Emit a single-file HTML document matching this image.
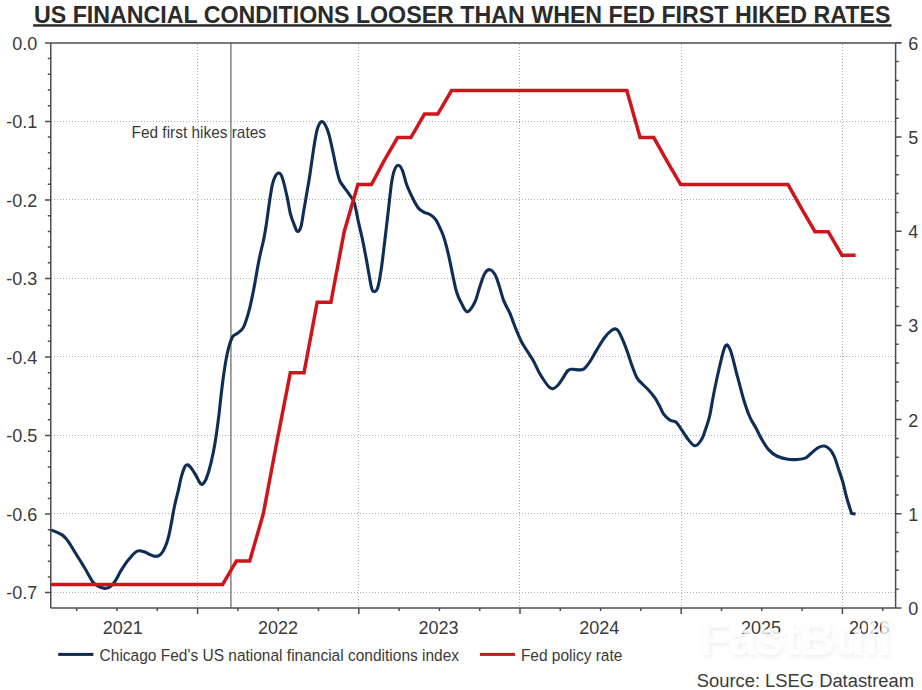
<!DOCTYPE html><html><head><meta charset="utf-8"><style>html,body{margin:0;padding:0;background:#fff;width:922px;height:690px;overflow:hidden}svg{display:block}text{font-family:"Liberation Sans",sans-serif}</style></head><body>
<svg width="922" height="690" viewBox="0 0 922 690">
<rect width="922" height="690" fill="#fff"/>
<text x="34" y="22.8" font-size="23.4" font-weight="bold" fill="#2b2b2b" textLength="856.5" lengthAdjust="spacingAndGlyphs">US FINANCIAL CONDITIONS LOOSER THAN WHEN FED FIRST HIKED RATES</text>
<rect x="33.1" y="24.2" width="858.4" height="2.5" fill="#2b2b2b"/>
<path d="M51,121.5H895 M51,199.5H895 M51,278.5H895 M51,356.5H895 M51,435.5H895 M51,513.5H895 M51,592.5H895" stroke="#adadad" stroke-width="1" stroke-dasharray="1,2" fill="none"/>
<path d="M197.5,44V607 M358.5,44V607 M519.5,44V607 M681.5,44V607 M842.5,44V607" stroke="#adadad" stroke-width="1" stroke-dasharray="1,2" fill="none"/>
<path d="M230.9,42.9V608.0" stroke="#808080" stroke-width="1.5" fill="none"/>
<text x="131.5" y="137.8" font-size="16.4" fill="#3a3a3a" textLength="134.5" lengthAdjust="spacingAndGlyphs">Fed first hikes rates</text>
<path d="M50.8,529.9 C51.8,530.3 54.7,531.3 56.6,532.2 C58.5,533.1 60.8,534.0 62.4,535.1 C64.0,536.2 65.1,537.5 66.4,539.1 C67.8,540.7 69.0,542.7 70.5,544.9 C72.0,547.1 73.5,550.0 75.1,552.5 C76.6,555.0 78.2,557.5 79.8,560.0 C81.3,562.5 82.9,564.9 84.4,567.5 C86.0,570.1 87.8,573.4 89.1,575.7 C90.4,578.0 91.2,579.8 92.5,581.5 C93.8,583.2 95.2,584.6 97.2,585.7 C99.2,586.9 102.4,588.3 104.7,588.4 C107.0,588.5 109.3,587.5 111.1,586.1 C112.9,584.8 114.2,582.7 115.7,580.3 C117.2,577.9 118.9,574.3 120.4,571.6 C122.0,568.9 123.4,566.6 125.0,564.3 C126.6,562.0 128.2,560.0 130.2,557.8 C132.2,555.6 134.9,552.2 137.2,551.2 C139.5,550.2 142.1,551.2 144.1,551.7 C146.1,552.2 147.4,553.5 149.3,554.3 C151.2,555.1 153.5,556.4 155.4,556.4 C157.3,556.4 159.1,555.8 160.7,554.3 C162.3,552.8 163.7,550.3 165.0,547.4 C166.3,544.5 167.3,541.6 168.5,537.0 C169.7,532.4 171.0,524.8 172.0,519.6 C173.0,514.4 173.6,510.4 174.6,505.7 C175.6,501.0 176.8,496.6 178.0,491.7 C179.2,486.8 180.3,480.3 181.5,476.1 C182.7,471.9 184.0,468.4 185.0,466.5 C186.0,464.6 186.4,464.4 187.6,464.8 C188.8,465.2 190.6,467.2 192.0,469.1 C193.4,471.0 194.9,473.7 196.3,476.1 C197.7,478.5 199.1,482.0 200.2,483.3 C201.2,484.6 201.6,484.9 202.6,484.2 C203.6,483.5 204.8,482.4 206.2,478.9 C207.6,475.3 209.6,468.8 211.0,462.9 C212.4,457.0 213.6,451.8 214.9,443.8 C216.2,435.8 217.8,424.1 218.9,415.1 C220.0,406.1 220.8,397.4 221.7,390.0 C222.6,382.6 223.4,376.3 224.3,370.4 C225.2,364.5 226.1,359.1 227.0,354.8 C227.9,350.5 228.6,347.4 229.6,344.3 C230.6,341.2 231.5,338.4 232.8,336.5 C234.1,334.6 235.8,334.5 237.4,333.2 C239.0,331.9 241.2,330.6 242.6,328.7 C244.0,326.8 244.4,325.3 245.6,322.0 C246.8,318.7 248.2,314.1 249.6,308.7 C250.9,303.3 252.1,297.7 253.7,289.4 C255.3,281.1 257.5,267.6 259.2,259.1 C260.9,250.6 262.7,244.6 263.9,238.5 C265.1,232.4 265.7,228.7 266.6,222.6 C267.5,216.5 268.5,208.1 269.5,201.7 C270.5,195.3 271.4,188.6 272.4,184.3 C273.4,180.1 274.2,178.1 275.3,176.2 C276.4,174.3 277.7,173.0 278.8,173.0 C279.9,173.0 280.8,174.1 281.7,176.2 C282.6,178.3 283.6,181.8 284.5,185.5 C285.4,189.2 286.4,193.6 287.4,198.2 C288.4,202.8 289.2,209.1 290.3,213.3 C291.4,217.6 292.6,220.7 293.8,223.7 C295.0,226.7 296.1,230.7 297.3,231.3 C298.5,231.9 299.7,230.6 300.8,227.2 C301.9,223.8 302.6,217.0 303.7,211.0 C304.8,205.0 306.1,197.5 307.1,191.3 C308.2,185.1 308.9,181.2 310.0,173.9 C311.1,166.6 312.6,155.2 313.8,147.7 C315.0,140.2 316.1,133.2 317.4,128.8 C318.7,124.5 320.1,122.2 321.4,121.6 C322.7,121.0 324.1,123.0 325.4,125.2 C326.7,127.4 327.7,129.9 329.0,134.6 C330.3,139.3 332.0,147.4 333.3,153.5 C334.6,159.6 335.9,166.3 337.0,170.9 C338.1,175.5 338.6,178.1 339.9,181.0 C341.2,183.9 343.2,185.9 344.9,188.3 C346.6,190.7 348.4,193.1 350.0,195.5 C351.6,197.9 352.9,198.3 354.3,202.9 C355.8,207.5 357.2,216.7 358.7,223.2 C360.1,229.7 361.6,235.0 363.0,242.0 C364.4,249.0 366.1,257.9 367.4,265.2 C368.7,272.4 370.0,281.1 371.0,285.5 C372.0,289.9 372.1,290.8 373.2,291.3 C374.3,291.8 376.2,292.0 377.5,288.4 C378.8,284.8 380.0,277.6 381.2,269.6 C382.4,261.6 383.6,250.5 384.8,240.6 C386.0,230.7 387.3,219.6 388.4,210.0 C389.5,200.4 390.5,189.9 391.5,183.3 C392.5,176.7 393.3,173.3 394.4,170.3 C395.5,167.3 397.0,165.2 398.3,165.2 C399.6,165.2 401.0,167.0 402.4,170.3 C403.8,173.6 405.0,180.2 406.7,184.8 C408.4,189.4 410.6,193.9 412.5,197.8 C414.4,201.7 416.4,205.6 418.3,208.0 C420.2,210.4 422.2,211.2 424.1,212.3 C426.0,213.4 428.0,213.3 429.9,214.5 C431.8,215.7 433.8,216.8 435.7,219.6 C437.6,222.4 439.9,227.6 441.5,231.2 C443.1,234.8 443.8,236.8 445.1,241.4 C446.4,246.0 448.1,253.0 449.4,258.8 C450.7,264.6 451.8,270.6 453.0,276.2 C454.2,281.8 455.2,287.6 456.7,292.2 C458.1,296.8 459.9,300.6 461.7,303.8 C463.5,307.1 465.3,311.9 467.5,311.7 C469.7,311.4 472.7,306.5 474.8,302.3 C476.9,298.1 478.2,291.2 479.9,286.4 C481.6,281.6 483.2,276.1 484.9,273.3 C486.6,270.5 488.3,269.4 490.0,269.7 C491.7,269.9 493.5,272.0 495.1,274.8 C496.7,277.6 497.9,282.0 499.4,286.4 C500.8,290.8 502.1,296.5 503.8,300.9 C505.5,305.2 508.1,309.1 509.6,312.5 C511.1,315.9 511.7,318.0 512.9,321.2 C514.1,324.4 515.5,328.1 517.0,331.6 C518.5,335.1 519.9,338.7 521.6,342.0 C523.3,345.3 525.5,348.2 527.4,351.3 C529.3,354.4 531.3,357.1 533.2,360.6 C535.1,364.1 537.1,368.7 539.0,372.2 C540.9,375.7 543.1,379.0 544.8,381.5 C546.5,384.0 548.0,386.1 549.4,387.3 C550.8,388.5 551.5,389.0 552.9,388.7 C554.3,388.4 556.0,387.1 557.6,385.5 C559.2,383.9 560.5,381.7 562.2,379.2 C563.9,376.7 566.3,372.1 568.0,370.5 C569.7,368.9 570.7,369.4 572.6,369.3 C574.5,369.2 577.7,370.0 579.6,369.9 C581.5,369.8 582.5,370.1 584.2,368.7 C585.9,367.3 588.0,364.6 590.0,361.5 C592.0,358.4 594.1,354.3 596.5,350.4 C598.9,346.5 601.9,341.2 604.3,338.0 C606.7,334.8 609.0,332.4 610.9,330.9 C612.8,329.4 614.1,328.8 615.4,328.9 C616.7,329.0 617.3,329.2 618.7,331.5 C620.1,333.8 622.4,339.0 623.9,342.6 C625.4,346.2 626.5,349.3 627.8,353.0 C629.1,356.7 630.2,360.7 631.7,364.8 C633.2,368.9 635.1,374.7 636.9,377.8 C638.6,380.9 640.2,381.6 642.2,383.7 C644.2,385.8 646.6,387.9 648.7,390.2 C650.8,392.5 652.8,394.8 654.6,397.4 C656.4,399.9 657.8,402.8 659.3,405.5 C660.8,408.2 661.6,411.2 663.3,413.6 C665.0,416.0 667.7,418.6 669.7,420.0 C671.7,421.4 673.8,420.5 675.5,421.8 C677.2,423.1 678.3,424.9 680.2,427.6 C682.1,430.3 684.7,435.0 687.1,438.0 C689.5,441.0 692.4,445.5 694.8,445.8 C697.2,446.1 699.5,442.9 701.4,439.8 C703.3,436.7 704.9,431.2 706.3,427.0 C707.7,422.8 708.7,420.3 709.9,414.8 C711.1,409.3 712.1,402.0 713.7,394.0 C715.3,386.0 717.6,375.0 719.5,367.0 C721.4,359.0 723.5,349.0 725.3,346.2 C727.1,343.4 728.4,345.2 730.4,350.3 C732.4,355.4 735.3,368.6 737.5,376.7 C739.7,384.8 741.5,392.4 743.5,399.0 C745.5,405.6 747.5,411.6 749.6,416.5 C751.7,421.4 754.2,424.7 756.2,428.5 C758.2,432.3 759.6,435.7 761.7,439.2 C763.8,442.7 766.1,446.8 768.6,449.6 C771.1,452.4 773.6,454.4 776.8,456.0 C780.0,457.6 784.4,458.7 787.9,459.3 C791.4,459.9 794.5,459.7 797.5,459.5 C800.5,459.3 803.3,459.1 805.8,457.9 C808.3,456.6 810.5,453.7 812.6,452.0 C814.7,450.3 816.2,448.6 818.2,447.6 C820.2,446.6 822.6,445.7 824.6,446.1 C826.6,446.5 828.6,448.0 830.2,449.8 C831.9,451.6 833.2,454.0 834.5,457.0 C835.8,460.0 836.8,463.7 838.1,467.7 C839.4,471.7 841.0,475.9 842.5,481.0 C844.0,486.1 845.3,492.6 846.8,498.0 C848.3,503.4 850.8,510.9 851.6,513.5 L855.5,513.9" stroke="#0f2e57" stroke-width="3.1" fill="none" stroke-linejoin="round" stroke-linecap="butt"/>
<path d="M50.4,584.4 L222.7,584.4 L236.4,560.9 L249.7,560.9 L263.3,513.8 L276.6,443.3 L290.3,372.8 L304.0,372.8 L317.2,302.2 L330.9,302.2 L344.2,231.7 L357.9,184.6 L371.5,184.6 L383.9,161.1 L397.6,137.6 L410.9,137.6 L424.5,114.1 L437.8,114.1 L451.5,90.6 L626.8,90.6 L640.1,137.6 L653.8,137.6 L667.0,161.1 L680.7,184.6 L788.0,184.6 L801.3,208.1 L815.0,231.7 L828.2,231.7 L841.9,255.2 L855.6,255.2" stroke="#cd161c" stroke-width="3.5" fill="none" stroke-linejoin="miter"/>
<path d="M45,42.9H901.5 M50.75,42.9V608.0 M895.6,42.9V608.0 M50.75,608.0H901.5 M45,42.9H50.75 M45,121.4H50.75 M45,200.0H50.75 M45,278.5H50.75 M45,357.0H50.75 M45,435.5H50.75 M45,514.1H50.75 M45,592.6H50.75 M47.8,58.6H50.75 M47.8,74.3H50.75 M47.8,90.0H50.75 M47.8,105.7H50.75 M47.8,137.1H50.75 M47.8,152.8H50.75 M47.8,168.5H50.75 M47.8,184.3H50.75 M47.8,215.7H50.75 M47.8,231.4H50.75 M47.8,247.1H50.75 M47.8,262.8H50.75 M47.8,294.2H50.75 M47.8,309.9H50.75 M47.8,325.6H50.75 M47.8,341.3H50.75 M47.8,372.7H50.75 M47.8,388.4H50.75 M47.8,404.1H50.75 M47.8,419.8H50.75 M47.8,451.3H50.75 M47.8,467.0H50.75 M47.8,482.7H50.75 M47.8,498.4H50.75 M47.8,529.8H50.75 M47.8,545.5H50.75 M47.8,561.2H50.75 M47.8,576.9H50.75 M895.6,608.0H901.5 M895.6,513.8H901.5 M895.6,419.6H901.5 M895.6,325.4H901.5 M895.6,231.2H901.5 M895.6,137.0H901.5 M895.6,42.8H901.5 M895.6,589.2H898.7 M895.6,570.3H898.7 M895.6,551.5H898.7 M895.6,532.6H898.7 M895.6,495.0H898.7 M895.6,476.1H898.7 M895.6,457.3H898.7 M895.6,438.4H898.7 M895.6,400.8H898.7 M895.6,381.9H898.7 M895.6,363.1H898.7 M895.6,344.2H898.7 M895.6,306.6H898.7 M895.6,287.7H898.7 M895.6,268.9H898.7 M895.6,250.0H898.7 M895.6,212.4H898.7 M895.6,193.5H898.7 M895.6,174.7H898.7 M895.6,155.8H898.7 M895.6,118.2H898.7 M895.6,99.3H898.7 M895.6,80.5H898.7 M895.6,61.6H898.7 M76.7,608.0V611.0 M117.0,608.0V611.0 M157.3,608.0V611.0 M197.6,608.0V614.0 M237.9,608.0V611.0 M278.2,608.0V611.0 M318.5,608.0V611.0 M358.8,608.0V614.0 M399.1,608.0V611.0 M439.4,608.0V611.0 M479.7,608.0V611.0 M520.0,608.0V614.0 M560.3,608.0V611.0 M600.6,608.0V611.0 M640.9,608.0V611.0 M681.2,608.0V614.0 M721.5,608.0V611.0 M761.8,608.0V611.0 M802.1,608.0V611.0 M842.4,608.0V614.0 M882.7,608.0V611.0" stroke="#4d4d4d" stroke-width="1.5" fill="none"/>
<text x="37.3" y="50" font-size="18" fill="#3a3a3a" text-anchor="end">0.0</text>
<text x="37.3" y="128" font-size="18" fill="#3a3a3a" text-anchor="end">-0.1</text>
<text x="37.3" y="207" font-size="18" fill="#3a3a3a" text-anchor="end">-0.2</text>
<text x="37.3" y="285" font-size="18" fill="#3a3a3a" text-anchor="end">-0.3</text>
<text x="37.3" y="364" font-size="18" fill="#3a3a3a" text-anchor="end">-0.4</text>
<text x="37.3" y="442" font-size="18" fill="#3a3a3a" text-anchor="end">-0.5</text>
<text x="37.3" y="521" font-size="18" fill="#3a3a3a" text-anchor="end">-0.6</text>
<text x="37.3" y="599" font-size="18" fill="#3a3a3a" text-anchor="end">-0.7</text>
<text x="908.2" y="615.0" font-size="18" fill="#3a3a3a">0</text>
<text x="908.2" y="520.8" font-size="18" fill="#3a3a3a">1</text>
<text x="908.2" y="426.6" font-size="18" fill="#3a3a3a">2</text>
<text x="908.2" y="332.4" font-size="18" fill="#3a3a3a">3</text>
<text x="908.2" y="238.2" font-size="18" fill="#3a3a3a">4</text>
<text x="908.2" y="144.0" font-size="18" fill="#3a3a3a">5</text>
<text x="908.2" y="49.8" font-size="18" fill="#3a3a3a">6</text>
<text x="122.7" y="634" font-size="18" fill="#3a3a3a" text-anchor="middle">2021</text>
<text x="278.0" y="634" font-size="18" fill="#3a3a3a" text-anchor="middle">2022</text>
<text x="438.5" y="634" font-size="18" fill="#3a3a3a" text-anchor="middle">2023</text>
<text x="599.3" y="634" font-size="18" fill="#3a3a3a" text-anchor="middle">2024</text>
<text x="761.1" y="634" font-size="18" fill="#3a3a3a" text-anchor="middle">2025</text>
<text x="869.0" y="634" font-size="18" fill="#3a3a3a" text-anchor="middle">2026</text>
<rect x="58.2" y="652.9" width="35.2" height="3" fill="#0e2a4f"/>
<text x="99.6" y="660.8" font-size="16.3" fill="#3a3a3a" textLength="359.5" lengthAdjust="spacingAndGlyphs">Chicago Fed's US national financial conditions index</text>
<rect x="480" y="652.9" width="35" height="3" fill="#d0121b"/>
<text x="520.9" y="660.8" font-size="16.3" fill="#3a3a3a" textLength="101.5" lengthAdjust="spacingAndGlyphs">Fed policy rate</text>
<text x="696.8" y="686.5" font-size="18" fill="#3a3a3a" textLength="217.2" lengthAdjust="spacingAndGlyphs">Source: LSEG Datastream</text>
<defs><filter id="wm" x="-10%" y="-30%" width="120%" height="160%"><feGaussianBlur in="SourceAlpha" stdDeviation="2" result="b"/><feOffset dx="1" dy="2" in="b" result="o"/><feComponentTransfer in="o" result="s"><feFuncA type="linear" slope="0.10"/></feComponentTransfer><feMerge><feMergeNode in="s"/><feMergeNode in="SourceGraphic"/></feMerge></filter></defs>
<text x="699.5" y="655" font-size="48" font-weight="bold" fill="#fff" fill-opacity="0.8" filter="url(#wm)" textLength="192" lengthAdjust="spacingAndGlyphs">FastBull</text>
</svg></body></html>
